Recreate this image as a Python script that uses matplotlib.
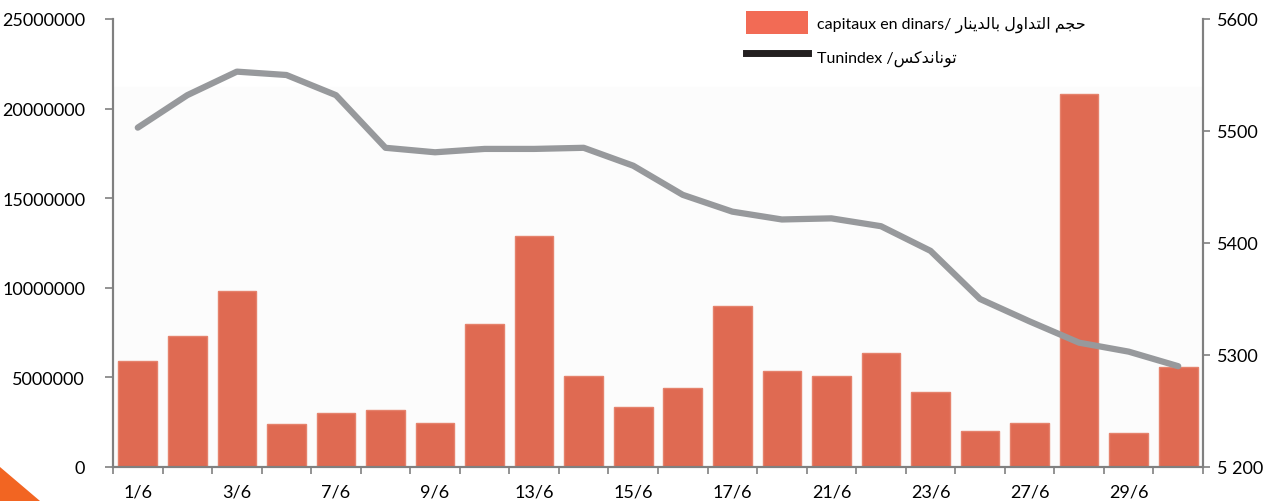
import matplotlib
matplotlib.use("Agg")
import matplotlib.pyplot as plt
import numpy as np
from matplotlib.patches import Patch, Polygon
from matplotlib.lines import Line2D
from matplotlib.ticker import FixedLocator, FixedFormatter

plt.rcParams['font.family'] = ['Lato', 'DejaVu Sans']

days = ["1/6", "2/6", "3/6", "6/6", "7/6", "8/6", "9/6", "10/6", "13/6", "14/6", "15/6",
        "16/6", "17/6", "20/6", "21/6", "22/6", "23/6", "24/6", "27/6", "28/6", "29/6", "30/6"]
capitaux = [5.9e6, 7.3e6, 9.8e6, 2.4e6, 3.0e6, 3.2e6, 2.45e6, 8.0e6, 12.9e6, 5.1e6, 3.35e6,
            4.4e6, 9.0e6, 5.35e6, 5.1e6, 6.35e6, 4.2e6, 2.0e6, 2.45e6, 20.8e6, 1.9e6, 5.6e6]
tunindex = [5503, 5532, 5553, 5550, 5532, 5485, 5481, 5484, 5484, 5485, 5469,
            5443, 5428, 5421, 5422, 5415, 5393, 5350, 5330, 5311, 5303, 5290]
shown_labels = ["1/6", "3/6", "7/6", "9/6", "13/6", "15/6", "17/6", "21/6", "23/6", "27/6", "29/6"]
right_ticks = [5200, 5300, 5400, 5500, 5600]
right_labels = ["5 200", "5300", "5400", "5500", "5600"]

# arabic written in visual order with presentation forms (no shaping in matplotlib)
ar_capitaux = "\uFEAD\uFE8E\uFEE8\uFEF3\uFEAA\uFEDF\uFE8E\uFE91 \uFEDD\uFEED\uFE8D\uFEAA\uFE98\uFEDF\uFE8D \uFEE2\uFEA0\uFEA3"
ar_tunindex = "\uFEB2\uFEDB\uFEAA\uFEE7\uFE8E\uFEE7\uFEEE\uFE97"

fig = plt.figure(figsize=(12.7, 5.02), dpi=100)
ax = fig.add_axes([113/1270, 34/502, 1090/1270, 448/502])
ax2 = ax.twinx()

x = np.arange(len(days))
ax.axhspan(0, 21.2e6, color='#fcfcfc', zorder=0)
ax.bar(x, capitaux, width=0.78, color='#df6a52', edgecolor='#e5826c', linewidth=1.0, zorder=2)
ax.set_xlim(-0.5, len(days) - 0.5)
ax.set_ylim(0, 25e6)
ax.set_yticks(np.arange(0, 25e6 + 1, 5e6))
ax.set_yticklabels([f"{int(v)}" for v in np.arange(0, 25e6 + 1, 5e6)])

ax.xaxis.set_major_locator(FixedLocator(np.arange(-0.5, len(days), 1)))
ax.xaxis.set_major_formatter(FixedFormatter([]))
ax.set_xticks([days.index(d) for d in shown_labels], minor=True)
ax.set_xticklabels(shown_labels, minor=True)
ax.tick_params(axis='x', which='minor', length=0, pad=12, labelsize=13)
ax.tick_params(axis='x', which='major', length=5, width=1.2, color='#808080')
ax.tick_params(axis='y', length=6, width=1.2, color='#808080', labelsize=13, pad=14)

ax2.plot(x, tunindex, color='#97999c', linewidth=4.5, solid_capstyle='round', solid_joinstyle='round', zorder=3)
ax2.set_ylim(5200, 5600)
ax2.set_yticks(right_ticks)
ax2.set_yticklabels(right_labels)
ax2.tick_params(axis='y', length=5, width=1.2, color='#808080', labelsize=13, pad=5)

for a in (ax, ax2):
    a.spines['top'].set_visible(False)
    for s in ('left', 'right', 'bottom'):
        a.spines[s].set_color('#808080')
        a.spines[s].set_linewidth(1.5)

handles = [Patch(facecolor='#f26b55', edgecolor='none'),
           Line2D([0], [0], color='#231f20', linewidth=5)]
labels = ["capitaux en dinars/ " + ar_capitaux, "Tunindex /" + ar_tunindex]
fig.legend(handles, labels, loc='upper left', bbox_to_anchor=(736/1270, 0.995), frameon=False,
           fontsize=11.5, handlelength=3.9, handleheight=1.8, handletextpad=0.6, labelspacing=0.7,
           borderaxespad=0.2)

fig.patches.append(Polygon([[0, 0], [0, 34/502], [40/1270, 0]], closed=True,
                           transform=fig.transFigure, facecolor='#f26522', edgecolor='none'))

fig.savefig("out.png", dpi=100)
